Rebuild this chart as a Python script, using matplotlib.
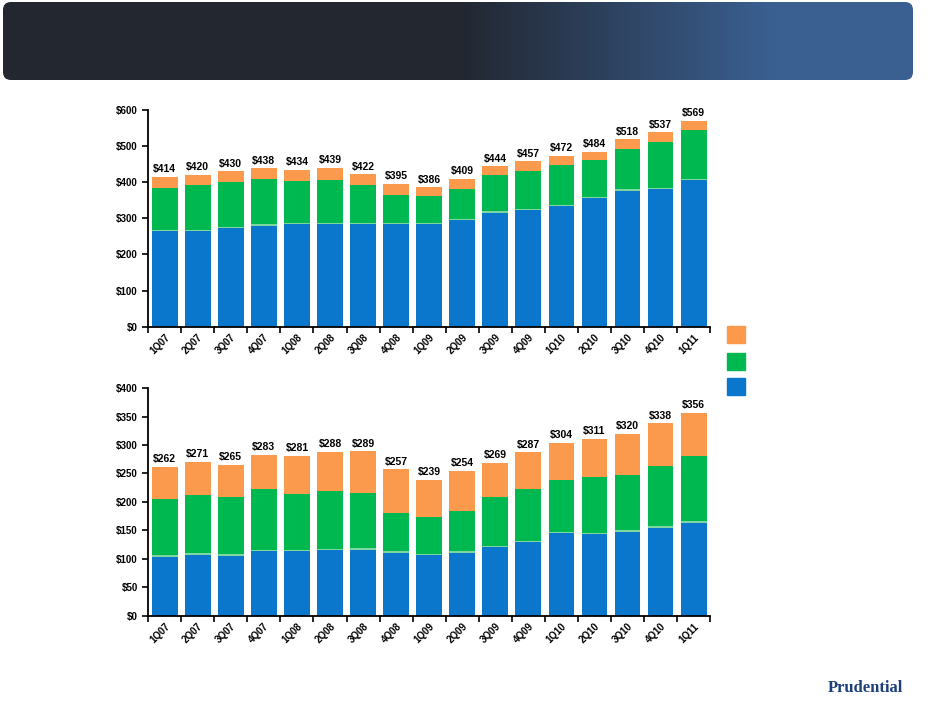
import numpy as np
import matplotlib.pyplot as plt
from matplotlib.patches import FancyBboxPatch, Rectangle

plt.rcParams['font.family'] = ['Liberation Sans', 'DejaVu Sans']

quarters = ["1Q07", "2Q07", "3Q07", "4Q07", "1Q08", "2Q08", "3Q08", "4Q08", "1Q09",
            "2Q09", "3Q09", "4Q09", "1Q10", "2Q10", "3Q10", "4Q10", "1Q11"]

# top chart
top_blue = [265, 265, 272, 280, 285, 283, 283, 285, 285, 294, 315, 322, 334, 356, 376, 380, 405]
top_thin = [3, 3, 3, 3, 3, 3, 3, 3, 3, 3, 4, 4, 4, 4, 4, 4, 4]
top_green = [116, 123, 125, 125, 114, 120, 105, 75, 74, 85, 101, 105, 109, 101, 111, 126, 134]
top_total = [414, 420, 430, 438, 434, 439, 422, 395, 386, 409, 444, 457, 472, 484, 518, 537, 569]

# bottom chart
bot_blue = [103, 107, 105, 113, 113, 115, 116, 111, 106, 111, 120, 129, 145, 143, 148, 155, 163]
bot_thin = [3, 3, 3, 3, 3, 3, 3, 3, 3, 3, 3, 3, 3, 3, 3, 3, 3]
bot_green = [100, 102, 100, 107, 98, 102, 97, 67, 64, 70, 86, 91, 90, 98, 96, 105, 114]
bot_total = [262, 271, 265, 283, 281, 288, 289, 257, 239, 254, 269, 287, 304, 311, 320, 338, 356]

BLUE, THIN, GREEN, ORANGE = "#0a77cc", "#7fd6a0", "#00b850", "#fb9a4c"

fig = plt.figure(figsize=(9.32, 7.03), dpi=100)

# header banner
hdr = fig.add_axes([0, 0, 1, 1], zorder=-1)
hdr.set_xlim(0, 932); hdr.set_ylim(703, 0); hdr.axis("off")
grad = np.linspace(0, 1, 300)
grad = np.clip((grad - 0.5) / 0.35, 0, 1)
c0 = np.array([0x22, 0x27, 0x30]) / 255
c1 = np.array([0x3a, 0x60, 0x92]) / 255
img = c0[None, :] * (1 - grad[:, None]) + c1[None, :] * grad[:, None]
im = hdr.imshow(img[None, :, :], extent=[3, 913, 80, 2], aspect="auto")
clip = FancyBboxPatch((3, 2), 910, 78, boxstyle="round,pad=0,rounding_size=8",
                      transform=hdr.transData, facecolor="none", edgecolor="none")
hdr.add_patch(clip)
im.set_clip_path(clip)
hdr.text(865, 688, "Prudential", fontsize=12, fontweight="bold", color="#1d3f7a",
         family="Liberation Serif", ha="center", va="center")


def draw(ax, blue, thin, green, total, ymax, step):
    x = np.arange(len(quarters))
    blue = np.array(blue); thin = np.array(thin); green = np.array(green)
    orange = np.array(total) - blue - thin - green
    w = 0.78
    ax.bar(x, blue, w, color=BLUE)
    ax.bar(x, thin, w, bottom=blue, color=THIN)
    ax.bar(x, green, w, bottom=blue + thin, color=GREEN)
    ax.bar(x, orange, w, bottom=blue + thin + green, color=ORANGE)
    for xi, t in zip(x, total):
        ax.text(xi, t + ymax * 0.012, f"${t}", ha="center", va="bottom",
                fontsize=7.5, fontweight="bold")
    ax.set_xlim(-0.5, len(quarters) - 0.5)
    ax.set_ylim(0, ymax)
    ax.set_yticks(np.arange(0, ymax + 1, step))
    ax.set_yticklabels([f"${v}" for v in np.arange(0, ymax + 1, step)],
                       fontsize=7, fontweight="bold")
    ax.set_xticks(np.arange(len(quarters) + 1) - 0.5)
    ax.set_xticklabels([])
    ax.set_xticks(x, minor=True)
    ax.set_xticklabels(quarters, minor=True, rotation=45, ha="right",
                       fontsize=7, fontweight="bold", rotation_mode="anchor")
    ax.tick_params(axis="x", which="minor", length=0, pad=4)
    ax.tick_params(axis="x", which="major", length=4, direction="out", width=1.2)
    ax.tick_params(axis="y", length=4, width=1.2)
    for s in ("top", "right"):
        ax.spines[s].set_visible(False)
    for s in ("left", "bottom"):
        ax.spines[s].set_linewidth(1.3)


ax1 = fig.add_axes([0.159, 0.535, 0.603, 0.309])
draw(ax1, top_blue, top_thin, top_green, top_total, 600, 100)
ax2 = fig.add_axes([0.159, 0.124, 0.603, 0.324])
draw(ax2, bot_blue, bot_thin, bot_green, bot_total, 400, 50)

# legend squares
for y0, c in zip([326, 353, 378], [ORANGE, GREEN, BLUE]):
    hdr.add_patch(Rectangle((727, y0), 18, 17, color=c))

fig.savefig("out.png", dpi=100)
